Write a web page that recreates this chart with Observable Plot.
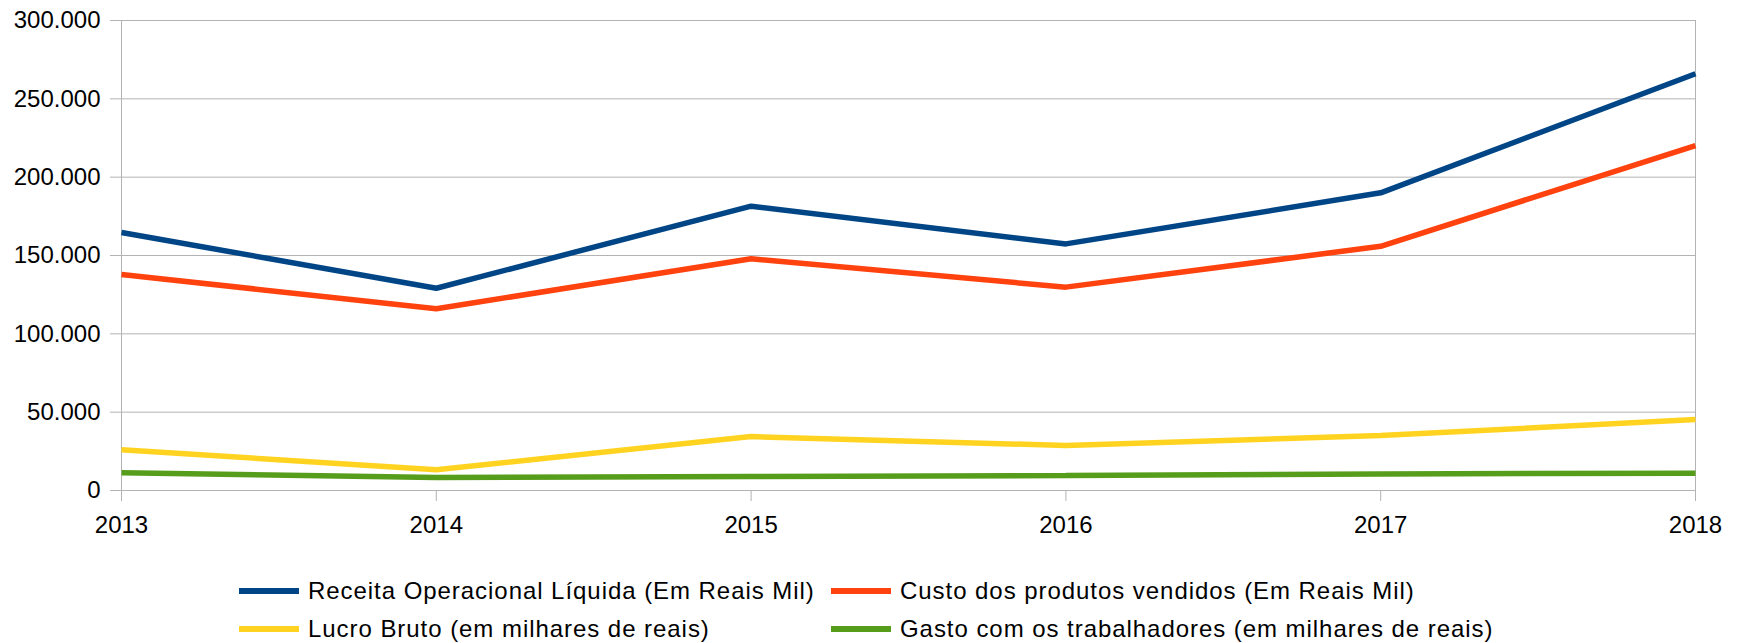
<!DOCTYPE html>
<html>
<head>
<meta charset="utf-8">
<script src="https://cdn.jsdelivr.net/npm/d3@7"></script>
<script src="https://cdn.jsdelivr.net/npm/@observablehq/plot@0.6"></script>
<style>
  body { margin: 0; background: #fff; font-family: "Liberation Sans", Arial, sans-serif; }
  #legend { position: relative; height: 93px; }
  .item { position: absolute; display: flex; align-items: center; font-size: 24px; letter-spacing: 0.95px; color: #000; white-space: nowrap; height: 40px; }
  .sw { width: 60px; height: 5.5px; margin-right: 9px; }
</style>
</head>
<body>
<div id="chart"></div>
<div id="legend"></div>
<script>
const years = [2013, 2014, 2015, 2016, 2017, 2018];
const seriesNames = [
  "Receita Operacional Líquida (Em Reais Mil)",
  "Custo dos produtos vendidos (Em Reais Mil)",
  "Lucro Bruto (em milhares de reais)",
  "Gasto com os trabalhadores (em milhares de reais)"
];
const receita = [164700, 129100, 181500, 157400, 190000, 266000];
const custo = [137900, 116000, 147900, 129800, 155900, 220200];
const lucro = [26000, 13200, 34400, 28700, 35100, 45300];
const gasto = [11300, 8300, 8900, 9600, 10600, 11000];
const colors = ["#004586", "#ff420e", "#ffd320", "#579d1c"];
const yTicks = [0, 50000, 100000, 150000, 200000, 250000, 300000];

const allValues = [receita, custo, lucro, gasto];
const data = [];
seriesNames.forEach((name, i) => {
  years.forEach((yr, j) => data.push({series: name, year: yr, value: allValues[i][j]}));
});

const ptBR = d3.formatLocale({decimal: ",", thousands: ".", grouping: [3], currency: ["R$", ""]});
const fmt = ptBR.format(",d");

const chart = Plot.plot({
  width: 1740,
  height: 550,
  marginTop: 20,
  marginLeft: 121,
  marginRight: 45,
  marginBottom: 60,
  style: {fontFamily: "Liberation Sans, Arial, sans-serif", fontSize: "24px", color: "#000", background: "#fff"},
  x: {domain: [2013, 2018], ticks: years, tickFormat: d => String(d), tickSize: 11, tickPadding: 14, label: null, line: false},
  y: {domain: [0, 300000], ticks: yTicks, tickFormat: fmt, tickSize: 11, tickPadding: 10, label: null},
  color: {domain: seriesNames, range: colors},
  marks: [
    Plot.ruleY(yTicks, {stroke: "#b3b3b3", strokeWidth: 1}),
    Plot.ruleX([2013, 2018], {y1: 0, y2: 300000, stroke: "#b3b3b3", strokeWidth: 1}),
    Plot.axisX({ticks: years, tickFormat: d => String(d), tickSize: 11, tickPadding: 14, stroke: "#b3b3b3", fill: "#000", fontSize: 24, label: null}),
    Plot.axisY({ticks: yTicks, tickFormat: fmt, tickSize: 11, tickPadding: 10, stroke: "#b3b3b3", fill: "#000", fontSize: 24, label: null}),
    Plot.line(data, {x: "year", y: "value", z: "series", stroke: "series", strokeWidth: 5.5, strokeLinejoin: "miter", strokeLinecap: "butt"})
  ]
});
document.getElementById("chart").appendChild(chart);

const legend = document.getElementById("legend");
const pos = [[239, 21], [831, 21], [239, 59], [831, 59]];
seriesNames.forEach((name, i) => {
  const it = document.createElement("div");
  it.className = "item";
  it.style.left = pos[i][0] + "px";
  it.style.top = pos[i][1] + "px";
  const sw = document.createElement("div");
  sw.className = "sw";
  sw.style.background = colors[i];
  const tx = document.createElement("span");
  tx.textContent = name;
  it.appendChild(sw);
  it.appendChild(tx);
  legend.appendChild(it);
});
</script>
</body>
</html>
